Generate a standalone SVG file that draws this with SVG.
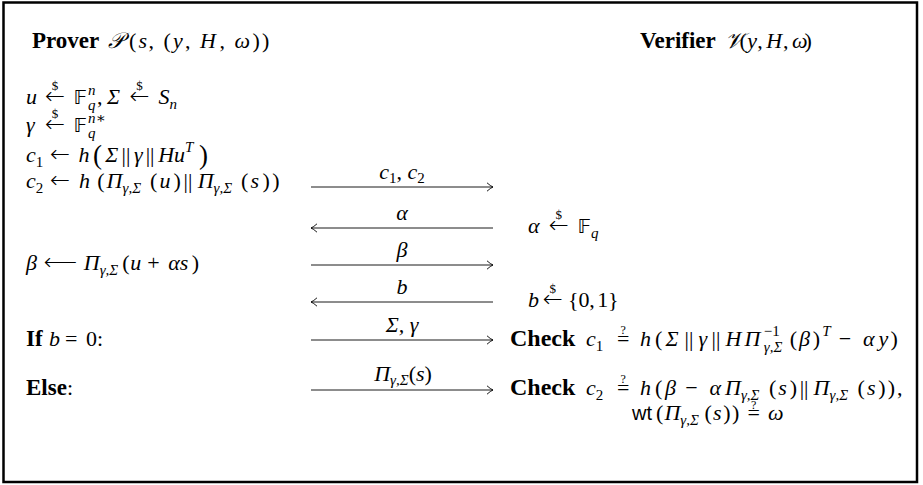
<svg xmlns="http://www.w3.org/2000/svg" width="923" height="485" viewBox="0 0 923 485">
<style>
.t{font-family:"Liberation Serif","DejaVu Serif",serif;font-size:22px;fill:#000}
.i{font-style:italic}
.b{font-weight:bold;font-size:23px}
.cb{font-weight:bold;font-size:24px}
.s{font-size:15px}
.d{font-size:13px;font-style:normal}
.ss{font-size:12px;font-style:normal}
.big{font-size:27px}
.arr{font-family:"DejaVu Sans",sans-serif;font-size:24px;font-style:normal;font-weight:200}
.bb{font-family:"DejaVu Sans",sans-serif;font-size:20px;font-style:normal}
.sf{font-family:"Liberation Sans","DejaVu Sans",sans-serif;font-size:20px}
.ar{stroke:#000;stroke-width:0.9;fill:none}
</style>
<defs>
<marker id="ah" viewBox="-7 -5 8 10" refX="0" refY="0" markerWidth="8" markerHeight="10" markerUnits="userSpaceOnUse" orient="auto">
<path d="M-6,-4.2 Q-2.5,-1 0,0 Q-2.5,1 -6,4.2" fill="none" stroke="#000" stroke-width="0.9"/>
</marker>
</defs>
<rect x="3.5" y="2.5" width="913.5" height="479.5" fill="#fff" stroke="#000" stroke-width="2.5"/>

<g id="prover">
<text class="t" y="48"><tspan x="32" class="b">Prover</tspan><tspan x="108" class="i">𝒫</tspan><tspan x="129">(</tspan><tspan x="138.5" class="i">s</tspan><tspan x="148.5">,</tspan><tspan x="163.5">(</tspan><tspan x="173" class="i">y</tspan><tspan x="185">,</tspan><tspan x="200" class="i">H</tspan><tspan x="219.5">,</tspan><tspan x="234.5" class="i">ω</tspan><tspan x="252.5">)</tspan><tspan x="262">)</tspan></text>
<text class="t" y="104"><tspan x="26" class="i">u</tspan><tspan x="45" class="arr">←</tspan><tspan x="51.8" y="90" class="d">$</tspan><tspan x="73.5" y="104" class="bb">𝔽</tspan><tspan x="88" y="95" class="s i">n</tspan><tspan x="88" y="109.5" class="s i">q</tspan><tspan x="97" y="104">,</tspan><tspan x="107" class="i">Σ</tspan><tspan x="129.6" class="arr">←</tspan><tspan x="136.3" y="90" class="d">$</tspan><tspan x="158.4" y="104" class="i">S</tspan><tspan y="108.5" class="s i">n</tspan></text>
<text class="t" y="132"><tspan x="26" class="i">γ</tspan><tspan x="45" class="arr">←</tspan><tspan x="51.8" y="118" class="d">$</tspan><tspan x="73.5" y="132" class="bb">𝔽</tspan><tspan x="88" y="123" class="s i">n∗</tspan><tspan x="88" y="137.5" class="s i">q</tspan></text>
<text class="t" y="162"><tspan x="26" class="i">c</tspan><tspan y="166.5" class="s">1</tspan><tspan x="50" y="162" class="arr">←</tspan><tspan x="78.6" class="i">h</tspan><tspan x="93" y="163.5" class="big">(</tspan><tspan x="105.3" y="162" class="i">Σ</tspan><tspan x="121.5">||</tspan><tspan x="134" class="i">γ</tspan><tspan x="145.7">||</tspan><tspan x="158.2" class="i">Hu</tspan><tspan y="152" class="s i">T</tspan><tspan x="199" y="163.5" class="big">)</tspan></text>
<text class="t" y="188"><tspan x="26" class="i">c</tspan><tspan y="192.5" class="s">2</tspan><tspan x="50" y="188" class="arr">←</tspan><tspan x="79" class="i">h</tspan><tspan x="97.2">(</tspan><tspan x="106.6" class="i">Π</tspan><tspan y="193" class="s i">γ,Σ</tspan><tspan x="150" y="188">(</tspan><tspan x="159.5" class="i">u</tspan><tspan x="173.6">)</tspan><tspan x="183.6">||</tspan><tspan x="197.7" class="i">Π</tspan><tspan y="193" class="s i">γ,Σ</tspan><tspan x="241" y="188">(</tspan><tspan x="250.5" class="i">s</tspan><tspan x="262.5">)</tspan><tspan x="272.3">)</tspan></text>
<text class="t" y="270"><tspan x="26" class="i">β</tspan><tspan x="43.8" class="arr">←</tspan><tspan x="58" class="arr">−</tspan><tspan x="83.8" class="i">Π</tspan><tspan y="275" class="s i">γ,Σ</tspan><tspan x="122.2" y="270">(</tspan><tspan x="130.3" class="i">u</tspan><tspan x="147.2">+</tspan><tspan x="168.3" class="i">αs</tspan><tspan x="191.8">)</tspan></text>
<text class="t" y="346"><tspan x="26" class="b">If</tspan><tspan x="49" class="i">b</tspan><tspan x="65">=</tspan><tspan x="86">0</tspan><tspan x="97">:</tspan></text>
<text class="t" y="395"><tspan x="26" class="b">Else</tspan>:</text>
</g>

<g id="verifier">
<text class="t" y="48"><tspan x="640" class="b">Verifier</tspan><tspan x="725" class="i">𝒱</tspan><tspan x="739.4">(</tspan><tspan x="747.3" class="i">y</tspan><tspan x="757.2">,</tspan><tspan x="766.2" class="i">H</tspan><tspan x="783">,</tspan><tspan x="792" class="i">ω</tspan><tspan x="804.6">)</tspan></text>
<text class="t" y="233"><tspan x="528" class="i">α</tspan><tspan x="548.7" class="arr">←</tspan><tspan x="555.4" y="219" class="d">$</tspan><tspan x="577.5" y="233" class="bb">𝔽</tspan><tspan y="238" class="s i">q</tspan></text>
<text class="t" y="307"><tspan x="528" class="i">b</tspan><tspan x="542.8" class="arr">←</tspan><tspan x="549.5" y="293" class="d">$</tspan><tspan x="568" y="307">{</tspan><tspan x="578.6">0</tspan><tspan x="589.3">,</tspan><tspan x="597.3">1</tspan><tspan x="608">}</tspan></text>
<text class="t" y="346"><tspan x="510" class="cb">Check</tspan><tspan x="586" class="i">c</tspan><tspan y="350.5" class="s">1</tspan><tspan x="617" y="346">=</tspan><tspan x="620.6" y="334" class="ss">?</tspan><tspan x="640" y="346" class="i">h</tspan><tspan x="655">(</tspan><tspan x="665.5" class="i">Σ</tspan><tspan x="684.5">||</tspan><tspan x="698.5" class="i">γ</tspan><tspan x="711.5">||</tspan><tspan x="725.5" class="i">H</tspan><tspan x="744.5" class="i">Π</tspan><tspan x="763.8" y="336" class="s">−1</tspan><tspan x="763.8" y="352" class="s i">γ,Σ</tspan><tspan x="789.7" y="346">(</tspan><tspan x="799.1" class="i">β</tspan><tspan x="812.8">)</tspan><tspan x="822.3" y="336" class="s i">T</tspan><tspan x="838.7" y="346">−</tspan><tspan x="863" class="i">α</tspan><tspan x="878.6" class="i">y</tspan><tspan x="890.5">)</tspan></text>
<text class="t" y="395"><tspan x="510" class="cb">Check</tspan><tspan x="586" class="i">c</tspan><tspan y="399.5" class="s">2</tspan><tspan x="617" y="395">=</tspan><tspan x="620.6" y="383" class="ss">?</tspan><tspan x="640" y="395" class="i">h</tspan><tspan x="655">(</tspan><tspan x="665" class="i">β</tspan><tspan x="685.3">−</tspan><tspan x="709.5" class="i">α</tspan><tspan x="725" class="i">Π</tspan><tspan y="400" class="s i">γ,Σ</tspan><tspan x="768.9" y="395">(</tspan><tspan x="778.3" class="i">s</tspan><tspan x="789.7">)</tspan><tspan x="799.7">||</tspan><tspan x="813.6" class="i">Π</tspan><tspan y="400" class="s i">γ,Σ</tspan><tspan x="857.5" y="395">(</tspan><tspan x="866.9" class="i">s</tspan><tspan x="878.3">)</tspan><tspan x="887.7">)</tspan><tspan x="897.1">,</tspan></text>
<text class="t" y="420"><tspan x="632" class="sf">wt</tspan><tspan x="655.9">(</tspan><tspan x="664.4" class="i">Π</tspan><tspan y="425" class="s i">γ,Σ</tspan><tspan x="704.4" y="420">(</tspan><tspan x="713" class="i">s</tspan><tspan x="723.3">)</tspan><tspan x="732">)</tspan><tspan x="747.5">=</tspan><tspan x="751" y="409" class="ss">?</tspan><tspan x="768" y="420" class="i">ω</tspan></text>
</g>

<g id="connectors">
<line class="ar" x1="311" y1="187" x2="493" y2="187" marker-end="url(#ah)"/>
<text class="t" x="402" y="179" text-anchor="middle"><tspan class="i">c</tspan><tspan class="s" dy="4">1</tspan><tspan dy="-4">, </tspan><tspan class="i">c</tspan><tspan class="s" dy="4">2</tspan></text>
<line class="ar" x1="493" y1="228" x2="311" y2="228" marker-end="url(#ah)"/>
<text class="t i" x="402" y="220" text-anchor="middle">α</text>
<line class="ar" x1="311" y1="265" x2="493" y2="265" marker-end="url(#ah)"/>
<text class="t i" x="402" y="257" text-anchor="middle">β</text>
<line class="ar" x1="493" y1="302" x2="311" y2="302" marker-end="url(#ah)"/>
<text class="t i" x="402" y="294" text-anchor="middle">b</text>
<line class="ar" x1="311" y1="340" x2="493" y2="340" marker-end="url(#ah)"/>
<text class="t i" x="402" y="332" text-anchor="middle">Σ, γ</text>
<line class="ar" x1="311" y1="390" x2="493" y2="390" marker-end="url(#ah)"/>
<text class="t" x="403" y="381" text-anchor="middle"><tspan class="i">Π</tspan><tspan class="s i" dy="4">γ,Σ</tspan><tspan dy="-4">(</tspan><tspan class="i">s</tspan>)</text>
</g>
</svg>
